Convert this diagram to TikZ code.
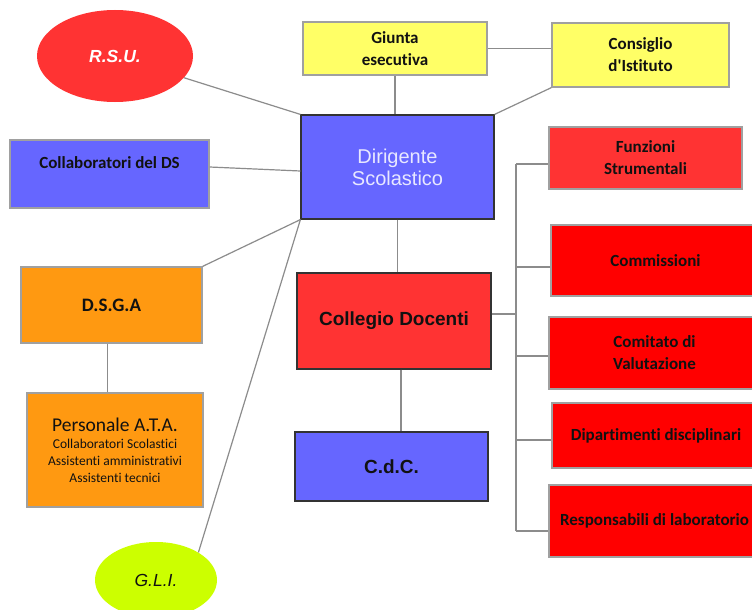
\documentclass[tikz,border=0pt]{standalone}
\usepackage{fontspec}
\setmainfont{Carlito}[Ligatures=NoCommon]
\newfontfamily\arialf{Liberation Sans}
\usetikzlibrary{shapes.geometric}
\definecolor{cred}{HTML}{FF3333}
\definecolor{cred2}{HTML}{FF0000}
\definecolor{cyel}{HTML}{FFFF66}
\definecolor{cblue}{HTML}{6666FF}
\definecolor{corange}{HTML}{FF9911}
\definecolor{cgreen}{HTML}{CCFF00}
\definecolor{bgray}{HTML}{A0A0A0}
\definecolor{bdark}{HTML}{333333}
\definecolor{lgray}{HTML}{8C8C8C}
\definecolor{wtext}{HTML}{E8E8FF}
\definecolor{txt}{HTML}{111111}
\tikzset{
  sz/.style 2 args={minimum width=#1pt,minimum height=#2pt},
  box/.style={draw=bgray,line width=1.2pt,inner sep=0pt,align=center,text=txt,
    font=\fontsize{17}{22}\selectfont\bfseries},
  darkbox/.style={draw=bdark,line width=1.2pt,inner sep=0pt,align=center,text=txt,
    font=\arialf\fontsize{19}{23}\selectfont\bfseries},
  oval/.style={ellipse,draw=none,inner sep=0pt},
  conn/.style={draw=lgray,line width=1.2pt}
}
\begin{document}
\begin{tikzpicture}[x=1pt,y=-1pt]
\clip (0,0) rectangle (752,610);
\fill[white] (0,0) rectangle (752,610);
% nodes
\node[oval,fill=cred,sz={156}{92},text=white,font=\arialf\fontsize{17.5}{20}\selectfont\bfseries\itshape] (rsu) at (115,56) {R.S.U.};
\node[box,fill=cyel,sz={184}{53}] (giunta) at (395,48.5) {Giunta\\esecutiva};
\node[box,fill=cyel,sz={177}{64}] (cons) at (640.5,55) {Consiglio\\d\textquotesingle Istituto};
\node[darkbox,fill=cblue,sz={193}{104},text=wtext,font=\arialf\fontsize{20}{22}\selectfont] (dir) at (397.5,167) {Dirigente\\Scolastico};
\node[box,fill=cred,sz={193}{62}] (fun) at (645.5,158) {Funzioni\\Strumentali};
\node[box,fill=cblue,sz={199}{68}] (collab) at (109.5,174) {Collaboratori del DS\\ \mbox{}};
\node[box,fill=corange,sz={181}{76},font=\fontsize{19}{22}\selectfont\bfseries] (dsga) at (111.5,305) {D.S.G.A};
\node[box,fill=corange,sz={176}{114},font=\fontsize{13.5}{17}\selectfont] (ata) at (115,450)
  {{\fontsize{19.5}{19}\selectfont Personale A.T.A.}\\Collaboratori Scolastici\\Assistenti amministrativi\\Assistenti tecnici};
\node[oval,fill=cgreen,sz={122}{76},text=txt,font=\arialf\fontsize{17.5}{20}\selectfont\itshape] (gli) at (156,580) {G.L.I.};
\node[darkbox,fill=cred,sz={194}{96}] (coll) at (394,321) {Collegio Docenti};
\node[darkbox,fill=cblue,sz={193}{69}] (cdc) at (391.5,466.5) {C.d.C.};
\node[box,fill=cred2,sz={209}{71}] (comm) at (655.5,260.5) {Commissioni};
\node[box,fill=cred2,sz={211}{72}] (comit) at (654.5,353) {Comitato di\\Valutazione};
\node[box,fill=cred2,sz={208}{65}] (dip) at (656,435.5) {Dipartimenti disciplinari};
\node[box,fill=cred2,sz={211}{72}] (resp) at (654.5,521) {Responsabili di laboratorio};
\coordinate (bt) at (516,164);
\coordinate (bb) at (516,531);
% connectors
\draw[conn] (rsu) -- (dir.north west);
\draw[conn] (giunta.south) -- (giunta.south |- dir.north);
\draw[conn] (giunta.east) -- (giunta.east -| cons.west);
\draw[conn] (cons.south west) -- (dir.north east);
\draw[conn] ([yshift=7pt]collab.east) -- ([yshift=-4pt]dir.west);
\draw[conn] (dsga.north east) -- (dir.south west);
\draw[conn] (gli.33) -- (dir.south west);
\draw[conn] ([xshift=-4pt]dsga.south) -- ([xshift=-4pt]dsga.south |- ata.north);
\draw[conn] (dir.south) -- (dir.south |- coll.north);
\draw[conn] ([xshift=7pt]coll.south) -- ([xshift=7pt]coll.south |- cdc.north);
\draw[conn] ([yshift=7pt]coll.east) -- ([yshift=7pt]coll.east -| bt);
\draw[conn] (bt) -- (bb);
\draw[conn] (bt) -- (bt -| fun.west);
\draw[conn] ([yshift=-6.5pt]comm.west) -- +(-35,0);
\draw[conn] ([yshift=-3pt]comit.west) -- +(-33,0);
\draw[conn] ([yshift=-4.5pt]dip.west) -- +(-36,0);
\draw[conn] (resp.west |- bb) -- (bb);
\end{tikzpicture}
\end{document}
